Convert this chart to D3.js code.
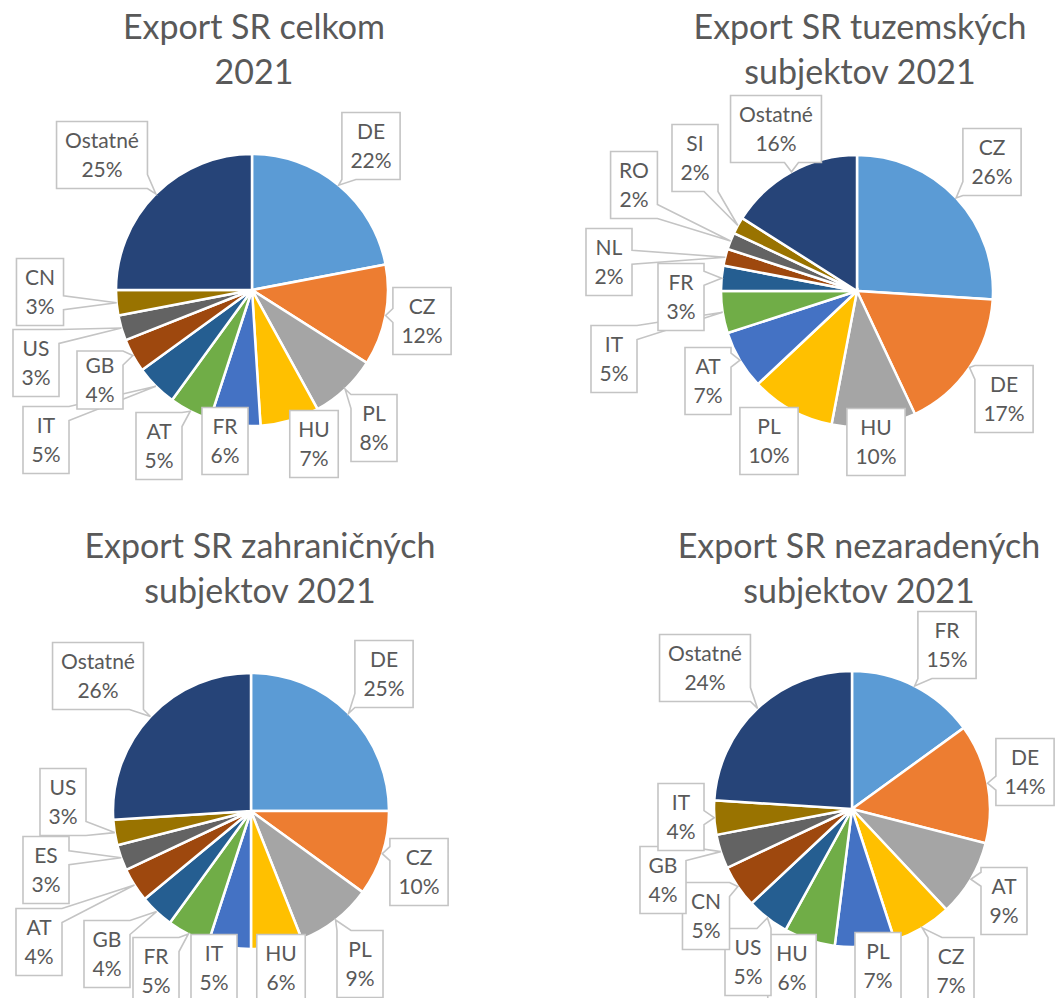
<!DOCTYPE html>
<meta charset="utf-8">
<style>
body { margin: 0; background: #fff; }
svg { display: block; }
.title { font: 34px Lato, "Open Sans", sans-serif; fill: #595959; text-anchor: middle; }
.lbl text { font: 21px Lato, "Open Sans", sans-serif; fill: #595959; text-anchor: middle; }
.lbl path { fill: #fff; stroke: #c4c4c4; stroke-width: 1.6; }
.slice { stroke: #fff; stroke-width: 2.5; }
</style>
<body>
<script src="https://d3js.org/d3.v7.min.js"></script>
<script>

// Office palette, slice order
var palette = ["#5b9bd5", "#ed7d31", "#a5a5a5", "#ffc000", "#4472c4", "#70ad47",
               "#255e91", "#9e480e", "#636363", "#997300", "#264478"];

// chart 1
var title1 = ["Export SR celkom", "2021"];
var countries1 = ["DE", "CZ", "PL", "HU", "FR", "AT", "IT", "GB", "US", "CN", "Ostatné"];
var shares1 = [22, 12, 8, 7, 6, 5, 5, 4, 3, 3, 25];

// chart 2
var title2 = ["Export SR tuzemských", "subjektov 2021"];
var countries2 = ["CZ", "DE", "HU", "PL", "AT", "IT", "FR", "NL", "RO", "SI", "Ostatné"];
var shares2 = [26, 17, 10, 10, 7, 5, 3, 2, 2, 2, 16];

// chart 3
var title3 = ["Export SR zahraničných", "subjektov 2021"];
var countries3 = ["DE", "CZ", "PL", "HU", "IT", "FR", "GB", "AT", "ES", "US", "Ostatné"];
var shares3 = [25, 10, 9, 6, 5, 5, 4, 4, 3, 3, 26];

// chart 4
var title4 = ["Export SR nezaradených", "subjektov 2021"];
var countries4 = ["FR", "DE", "AT", "CZ", "PL", "HU", "US", "CN", "GB", "IT", "Ostatné"];
var shares4 = [15, 14, 9, 7, 7, 6, 5, 5, 4, 4, 24];

// layout only: pie centre/radius, title position, label box centres (same order as countries)
var layout1 = {cx: 252, cy: 290, r: 136, tx: 254, ty: 39,
  boxes: [[371, 146], [422, 321], [374, 428], [314, 444], [225, 441], [159, 446],
          [46, 440], [100, 380, 58], [36, 363], [40, 292], [102, 155]]};
var layout2 = {cx: 857, cy: 291, r: 136, tx: 860, ty: 39,
  boxes: [[992, 162], [1004, 399], [876, 442], [769, 441], [708, 381], [614, 359],
          [681, 297], [609, 262], [634, 185], [695, 158], [776, 129]]};
var layout3 = {cx: 251, cy: 811, r: 138, tx: 260, ty: 558,
  boxes: [[384, 674], [419, 872], [360, 964], [281, 968], [214, 968], [156, 971],
          [107, 954], [39, 942], [46, 870], [63, 802], [98, 676]]};
var layout4 = {cx: 852, cy: 809, r: 138, tx: 859, ty: 558,
  boxes: [[947, 645], [1025, 772], [1004, 901], [951, 971], [878, 966], [792, 968],
          [748, 962], [706, 916], [663, 880], [681, 817], [705, 668]]};

var svg = d3.select("body").append("svg")
    .attr("width", 1058)
    .attr("height", 998);

var color = d3.scaleOrdinal().range(palette);

function clamp(v, a, b) { return Math.max(a, Math.min(b, v)); }

// box outline with a wedge pointing at (ax, ay)
function callout(x0, y0, x1, y1, ax, ay) {
  var hw = 7;
  var dl = x0 - ax, dr = ax - x1, dt = y0 - ay, db = ay - y1;
  var m = Math.max(dl, dr, dt, db);
  var pts = [[x0, y0]];
  var c;
  if (m > 0 && m === dt) {
    c = clamp(ax, x0 + hw, x1 - hw);
    pts.push([c - hw, y0], [ax, ay], [c + hw, y0]);
  }
  pts.push([x1, y0]);
  if (m > 0 && m === dr && m !== dt) {
    c = clamp(ay, y0 + hw, y1 - hw);
    pts.push([x1, c - hw], [ax, ay], [x1, c + hw]);
  }
  pts.push([x1, y1]);
  if (m > 0 && m === db && m !== dt && m !== dr) {
    c = clamp(ax, x0 + hw, x1 - hw);
    pts.push([c + hw, y1], [ax, ay], [c - hw, y1]);
  }
  pts.push([x0, y1]);
  if (m > 0 && m === dl && m !== dt && m !== dr && m !== db) {
    c = clamp(ay, y0 + hw, y1 - hw);
    pts.push([x0, c + hw], [ax, ay], [x0, c - hw]);
  }
  return "M" + pts.map(function(p) { return p[0] + "," + p[1]; }).join("L") + "Z";
}

function drawPie(title, countries, shares, lay) {
  var rows = countries.map(function(c, i) { return {name: c, value: shares[i], box: lay.boxes[i]}; });

  svg.append("text").attr("class", "title")
      .attr("x", lay.tx).attr("y", lay.ty).text(title[0]);
  svg.append("text").attr("class", "title")
      .attr("x", lay.tx).attr("y", lay.ty + 45).text(title[1]);

  var pie = d3.pie().sort(null).value(function(d) { return d.value; });
  var arc = d3.arc().innerRadius(0).outerRadius(lay.r);
  var arcs = pie(rows);

  var g = svg.append("g").attr("transform", "translate(" + lay.cx + "," + lay.cy + ")");
  g.selectAll(".slice").data(arcs)
    .enter().append("path")
      .attr("class", "slice")
      .attr("d", arc)
      .attr("fill", function(d, i) { return color(i); });

  // labels
  var lbl = svg.selectAll(null).data(arcs)
    .enter().append("g").attr("class", "lbl");

  lbl.each(function(d) {
    var sel = d3.select(this);
    var bx = d.data.box[0], by = d.data.box[1], bh = d.data.box[2] || 67;
    var path = sel.append("path");
    var t1 = sel.append("text").attr("x", bx).attr("y", by - 7).text(d.data.name);
    var t2 = sel.append("text").attr("x", bx).attr("y", by + 22)
        .text(Math.round(d.data.value) + "%");
    var tw = Math.max(t1.node().getComputedTextLength(), t2.node().getComputedTextLength());
    var bw = tw + 17;
    var mid = (d.startAngle + d.endAngle) / 2;
    var ax = lay.cx + lay.r * Math.sin(mid);
    var ay = lay.cy - lay.r * Math.cos(mid);
    path.attr("d", callout(bx - bw / 2, by - bh / 2, bx + bw / 2, by + bh / 2, ax, ay));
  });
}

drawPie(title1, countries1, shares1, layout1);
drawPie(title2, countries2, shares2, layout2);
drawPie(title3, countries3, shares3, layout3);
drawPie(title4, countries4, shares4, layout4);

</script>
</body>
